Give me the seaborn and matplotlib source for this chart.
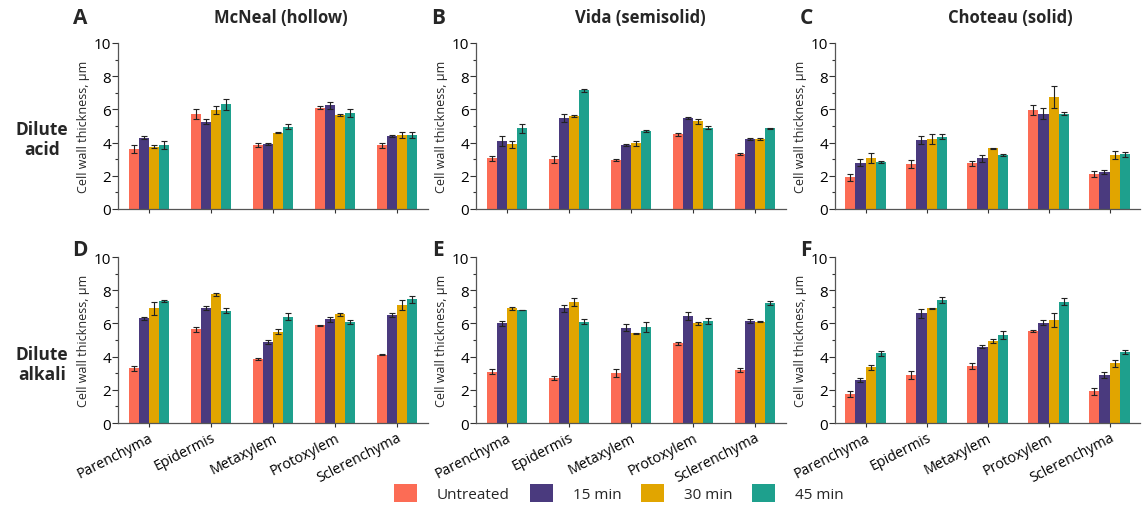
import pandas as pd
import numpy as np
import matplotlib
matplotlib.use("Agg")
import matplotlib.pyplot as plt
from matplotlib.patches import Patch
from matplotlib.ticker import MultipleLocator
import seaborn as sns

tissues = ["Parenchyma", "Epidermis", "Metaxylem", "Protoxylem", "Sclerenchyma"]
times = ["Untreated", "15 min", "30 min", "45 min"]
colors = ["#FC6C55", "#4A3A7E", "#E1A500", "#1EA08D"]

# rows = tissues, cols = times
mcneal_acid = [[3.6, 4.3, 3.75, 3.85], [5.7, 5.25, 5.95, 6.3], [3.85, 3.9, 4.6, 4.95],
               [6.1, 6.25, 5.65, 5.8], [3.85, 4.4, 4.45, 4.45]]
mcneal_acid_err = [[0.25, 0.1, 0.1, 0.25], [0.3, 0.15, 0.25, 0.35], [0.1, 0.05, 0.05, 0.15],
                   [0.1, 0.2, 0.05, 0.25], [0.15, 0.05, 0.2, 0.2]]
vida_acid = [[3.05, 4.1, 3.9, 4.85], [3.0, 5.5, 5.6, 7.15], [2.95, 3.85, 3.95, 4.7],
             [4.5, 5.5, 5.3, 4.9], [3.3, 4.2, 4.2, 4.85]]
vida_acid_err = [[0.15, 0.3, 0.2, 0.25], [0.2, 0.25, 0.05, 0.1], [0.05, 0.05, 0.15, 0.05],
                 [0.1, 0.07, 0.15, 0.1], [0.07, 0.05, 0.05, 0.05]]
choteau_acid = [[1.9, 2.8, 3.05, 2.85], [2.7, 4.15, 4.2, 4.35], [2.75, 3.05, 3.65, 3.25],
                [5.95, 5.75, 6.75, 5.75], [2.1, 2.2, 3.25, 3.3]]
choteau_acid_err = [[0.2, 0.2, 0.3, 0.05], [0.25, 0.25, 0.3, 0.15], [0.15, 0.2, 0.05, 0.07],
                    [0.3, 0.35, 0.65, 0.1], [0.2, 0.12, 0.25, 0.15]]
mcneal_alkali = [[3.3, 6.3, 6.9, 7.35], [5.65, 6.9, 7.75, 6.75], [3.85, 4.85, 5.5, 6.4],
                 [5.9, 6.25, 6.55, 6.1], [4.1, 6.5, 7.1, 7.45]]
mcneal_alkali_err = [[0.15, 0.1, 0.4, 0.07], [0.15, 0.12, 0.1, 0.15], [0.05, 0.12, 0.15, 0.2],
                     [0.03, 0.15, 0.1, 0.12], [0.03, 0.1, 0.3, 0.2]]
vida_alkali = [[3.1, 6.0, 6.9, 6.8], [2.7, 6.9, 7.3, 6.1], [3.0, 5.75, 5.4, 5.8],
               [4.8, 6.45, 6.0, 6.15], [3.2, 6.15, 6.1, 7.2]]
vida_alkali_err = [[0.15, 0.15, 0.07, 0.02], [0.12, 0.2, 0.25, 0.15], [0.25, 0.2, 0.02, 0.3],
                   [0.08, 0.25, 0.1, 0.2], [0.1, 0.1, 0.02, 0.12]]
choteau_alkali = [[1.75, 2.6, 3.35, 4.2], [2.9, 6.6, 6.9, 7.4], [3.45, 4.6, 4.95, 5.3],
                  [5.55, 6.05, 6.2, 7.3], [1.9, 2.9, 3.6, 4.3]]
choteau_alkali_err = [[0.2, 0.1, 0.15, 0.15], [0.25, 0.25, 0.03, 0.17], [0.18, 0.1, 0.12, 0.25],
                      [0.07, 0.15, 0.4, 0.22], [0.2, 0.18, 0.2, 0.12]]

panels = [
    ("A", mcneal_acid, mcneal_acid_err, 0, 0),
    ("B", vida_acid, vida_acid_err, 0, 1),
    ("C", choteau_acid, choteau_acid_err, 0, 2),
    ("D", mcneal_alkali, mcneal_alkali_err, 1, 0),
    ("E", vida_alkali, vida_alkali_err, 1, 1),
    ("F", choteau_alkali, choteau_alkali_err, 1, 2),
]
cultivars = ["McNeal (hollow)", "Vida (semisolid)", "Choteau (solid)"]
treatments = ["Dilute\nacid", "Dilute\nalkali"]

sns.set_style("ticks")
plt.rcParams["font.family"] = ["Open Sans", "DejaVu Sans"]

W, H = 1144, 510
fig = plt.figure(figsize=(W / 100, H / 100), dpi=100)

lefts = [118, 476, 835]
widths = [310, 310, 305]
bottoms = [210, 424]  # pixel y of zero line
ax_h = 166

for letter, vals, errs, r, c in panels:
    ax = fig.add_axes([lefts[c] / W, 1 - bottoms[r] / H, widths[c] / W, ax_h / H])
    df = pd.DataFrame([(t, tm, vals[i][j]) for i, t in enumerate(tissues)
                       for j, tm in enumerate(times)], columns=["tissue", "time", "value"])
    sns.barplot(data=df, x="tissue", y="value", hue="time", hue_order=times,
                palette=colors, width=0.66, saturation=1, errorbar=None,
                legend=False, ax=ax, linewidth=0)
    bar_groups = list(ax.containers)
    for j, cont in enumerate(bar_groups):
        xs = [p.get_x() + p.get_width() / 2 for p in cont]
        ys = [p.get_height() for p in cont]
        ax.errorbar(xs, ys, yerr=[errs[i][j] for i in range(len(tissues))], fmt="none",
                    ecolor="#222222", elinewidth=0.8, capsize=2.2, capthick=0.8)
    ax.set_ylim(0, 10)
    ax.set_xlim(-0.5, 4.5)
    ax.yaxis.set_major_locator(MultipleLocator(2))
    ax.yaxis.set_minor_locator(MultipleLocator(1))
    ax.tick_params(axis="y", which="major", length=4, width=0.8, labelsize=11, pad=1, colors="#333333")
    ax.tick_params(axis="y", which="minor", length=2, width=0.8, colors="#333333")
    ax.tick_params(axis="x", length=3, width=0.8, colors="#333333", labelsize=10.3, pad=2)
    for lab in ax.get_yticklabels():
        lab.set_color("black")
    ax.set_xlabel("")
    ax.set_ylabel("Cell wall thickness, µm", fontsize=9, labelpad=3)
    if r == 0:
        ax.set_xticklabels([])
    else:
        ax.set_xticklabels(tissues, rotation=27, ha="right", rotation_mode="anchor")
        for lab in ax.get_xticklabels():
            lab.set_color("black")
    for s in ["top", "right"]:
        ax.spines[s].set_visible(False)
    for s in ["left", "bottom"]:
        ax.spines[s].set_color("#555555")
        ax.spines[s].set_linewidth(0.9)
    fig.text([80, 438, 806][c] / W, 1 - [18, 250][r] / H, letter, fontsize=15,
             fontweight="bold", ha="center", va="center")

for c, name in enumerate(cultivars):
    fig.text([281, 640, 1010][c] / W, 1 - 18 / H, name, fontsize=12,
             fontweight="bold", ha="center", va="center")
for r, name in enumerate(treatments):
    fig.text(42 / W, 1 - [140, 365][r] / H, name, fontsize=12.5,
             fontweight="bold", ha="center", va="center", linespacing=1.15)

handles = [Patch(facecolor=col, edgecolor="none", label=t) for col, t in zip(colors, times)]
fig.legend(handles=handles, loc="center", bbox_to_anchor=(619 / W, 1 - 494 / H), ncol=4,
           frameon=False, fontsize=11, handlelength=1.5, handleheight=1.5,
           columnspacing=1.3, handletextpad=1.3)

fig.savefig("out.png", dpi=100)
